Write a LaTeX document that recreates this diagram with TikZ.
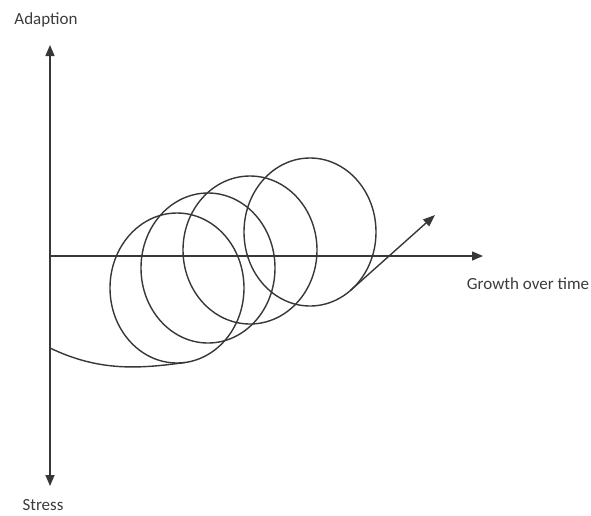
\documentclass[tikz,border=0pt]{standalone}
\usepackage{fontspec}
\setmainfont{Carlito}
\usetikzlibrary{arrows.meta}
\definecolor{linegray}{RGB}{55,55,55}
\definecolor{textgray}{RGB}{60,60,60}
\begin{document}
\begin{tikzpicture}[x=1pt,y=-1pt,
  axis/.style={draw=linegray, line width=1.5pt, -{Triangle[length=11pt,width=9pt]}},
  loopline/.style={draw=linegray, line width=1.4pt},
  lbl/.style={text=textgray, font=\fontsize{17}{20}\selectfont, inner sep=0pt}]
\useasboundingbox (0,0) rectangle (591,515);
% axes
\coordinate (O) at (50,256);
\coordinate (ytop) at (50,45);
\coordinate (ybot) at (50,486);
\coordinate (xend) at (483,256);
\draw[axis] (O) -- (ytop);
\draw[axis] (O) -- (ybot);
\draw[axis] (O) -- (xend);
% labels
\node[lbl] (adapt) at (46,20) {Adaption};
\node[lbl] (stress) at (43,505) {Stress};
\node[lbl] (growth) at (528,284) {Growth over time};
% loops
\coordinate (c1) at (177,288);
\coordinate (c2) at (208,268);
\coordinate (c3) at (250,250);
\coordinate (c4) at (310,232);
\draw[loopline] (c1) ellipse [x radius=67pt, y radius=75pt];
\draw[loopline] (c2) ellipse [x radius=67pt, y radius=75pt];
\draw[loopline] (c3) ellipse [x radius=67pt, y radius=74pt];
\draw[loopline] (c4) ellipse [x radius=66pt, y radius=74pt];
% tail from the stress axis into the first loop
\coordinate (tailstart) at (50,348);
\coordinate (join1) at (185,362.5);
\draw[loopline] (tailstart) .. controls (100,372) and (140,368.6) .. (join1);
% exit arrow
\coordinate (exitstart) at (350.6,290.3);
\coordinate (exittip) at (435,215);
\draw[loopline, -{Triangle[length=12pt,width=9pt]}] (exitstart) -- (exittip);
\end{tikzpicture}
\end{document}
